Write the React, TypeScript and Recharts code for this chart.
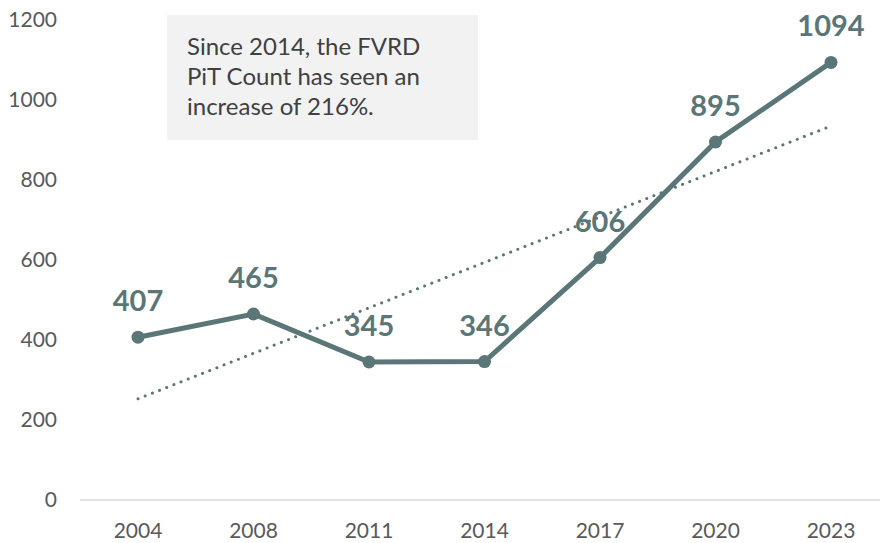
import React from 'react';
import { LineChart, Line, XAxis, YAxis, CartesianGrid, LabelList, ReferenceLine } from 'recharts';

const years = ['2004', '2008', '2011', '2014', '2017', '2020', '2023'];
const counts = [407, 465, 345, 346, 606, 895, 1094];
const yTicks = [0, 200, 400, 600, 800, 1000, 1200];
// linear trend end points
const trendStart = 253;
const trendEnd = 935;

const data = years.map((year, i) => ({ year, count: counts[i] }));

const LINE = '#5a7677';
const TICK = '#595959';

const renderLabel = (props: any) => {
  const { x, y, value } = props;
  return (
    <text x={x} y={y - 26} textAnchor="middle" fill={LINE} fontSize={29} fontWeight={700} fontFamily="Lato">
      {value}
    </text>
  );
};

export default function App() {
  return (
    <div style={{ position: 'absolute', left: 0, top: 0, width: 880, height: 543, overflow: 'hidden', background: '#fff' }}>
      <LineChart width={889} height={543} data={data} margin={{ top: 20, right: 0, bottom: 0, left: 0 }}>
        <CartesianGrid vertical={false} horizontal={false} />
        <XAxis
          dataKey="year"
          padding={{ left: 58, right: 58 }}
          axisLine={{ stroke: '#d9d9d9', strokeWidth: 1.5 }}
          tickLine={false}
          tickSize={0}
          tickMargin={23}
          height={43}
          tick={{ fill: TICK, fontSize: 21, fontFamily: 'Lato' }}
        />
        <YAxis
          domain={[0, 1200]}
          ticks={yTicks}
          axisLine={false}
          tickLine={false}
          tickSize={0}
          tickMargin={23}
          width={80}
          tick={{ fill: TICK, fontSize: 21, fontFamily: 'Lato' }}
        />
        <ReferenceLine
          segment={[{ x: years[0], y: trendStart }, { x: years[years.length - 1], y: trendEnd }]}
          stroke={LINE}
          strokeWidth={3}
          strokeDasharray="0.1 7.6"
          strokeLinecap="round"
        />
        <Line
          type="linear"
          dataKey="count"
          stroke={LINE}
          strokeWidth={5}
          dot={{ r: 6.5, fill: LINE, stroke: LINE, strokeWidth: 0 }}
          activeDot={false}
          isAnimationActive={false}
        >
          <LabelList dataKey="count" content={renderLabel} />
        </Line>
      </LineChart>
      <div
        style={{
          position: 'absolute',
          left: 167,
          top: 15,
          width: 311,
          height: 125,
          background: '#f2f2f2',
          boxSizing: 'border-box',
          padding: '16px 0 0 20px',
          fontFamily: 'Lato',
          fontSize: 24,
          lineHeight: '30px',
          color: '#404040',
        }}
      >
        Since 2014, the FVRD
        <br />
        PiT Count has seen an
        <br />
        increase of 216%.
      </div>
    </div>
  );
}
